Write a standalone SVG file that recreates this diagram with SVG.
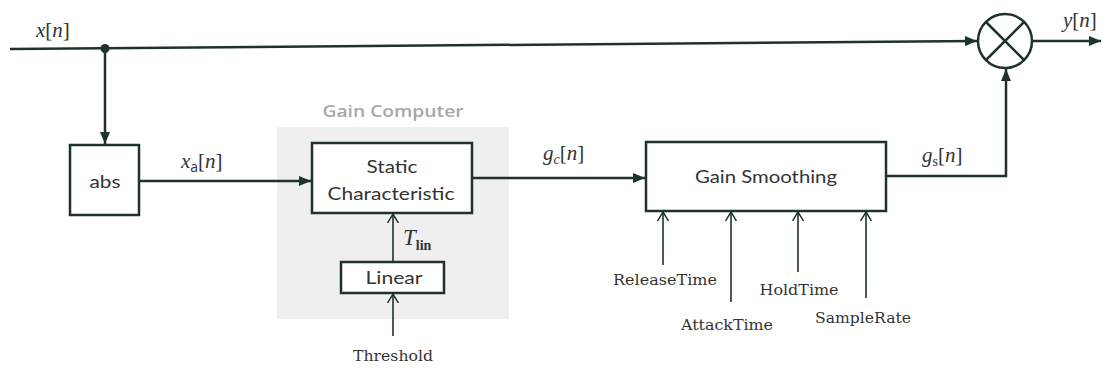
<svg xmlns="http://www.w3.org/2000/svg" width="1103" height="372" viewBox="0 0 1103 372">
<style>
.ln{fill:none;stroke:#1f3329;stroke-width:2.5}
.pl{fill:none;stroke:#1f3329;stroke-width:1.6}
.box{fill:#fff;stroke:#1f3329;stroke-width:2.5}
.lbl{font-family:"Lato","Open Sans",sans-serif;font-size:17px;fill:#333;text-anchor:middle}
.par{font-family:"DejaVu Serif","Liberation Serif",serif;font-size:14px;fill:#333;text-anchor:middle}
.m{font-family:"Liberation Serif","DejaVu Serif",serif;font-size:21px;fill:#333}
.it{font-style:italic}
.sub{font-size:14px}
</style>
<defs>
<marker id="fa" viewBox="0 0 12 10" refX="12" refY="5" markerWidth="12" markerHeight="10" orient="auto" markerUnits="userSpaceOnUse"><path d="M0,0 L12,5 L0,10 z" fill="#1f3329"/></marker>
<marker id="oa" viewBox="0 0 10 12" refX="9" refY="6" markerWidth="10" markerHeight="12" orient="auto" markerUnits="userSpaceOnUse"><path d="M0,0.5 L9,6 L0,11.5" fill="none" stroke="#1f3329" stroke-width="1.5"/></marker>
</defs>
<rect width="1103" height="372" fill="#fff"/>
<g id="gain-computer">
<rect x="277" y="127" width="232" height="192" fill="#efefef"/>
<text x="393" y="117" text-anchor="middle" font-family="'Open Sans','Noto Sans',sans-serif" font-weight="600" font-size="16" fill="#a8a8a8" textLength="141" lengthAdjust="spacingAndGlyphs">Gain Computer</text>
</g>
<g id="connectors">
<path class="ln" d="M10,49 L977,41" marker-end="url(#fa)"/>
<path class="ln" d="M105,48 L105,144" marker-end="url(#fa)"/>
<path class="ln" d="M139,181 L311,181" marker-end="url(#fa)"/>
<path class="ln" d="M472,178 L645,178" marker-end="url(#fa)"/>
<path class="ln" d="M886,176 L1006,176 L1006,69" marker-end="url(#fa)"/>
<path class="ln" d="M1033,41 L1101,41" marker-end="url(#fa)"/>
<path class="pl" d="M393,262 L393,214" marker-end="url(#oa)"/>
<path class="pl" d="M393,336 L393,294" marker-end="url(#oa)"/>
<path class="pl" d="M663,265 L663,212" marker-end="url(#oa)"/>
<path class="pl" d="M731,302 L731,212" marker-end="url(#oa)"/>
<path class="pl" d="M798,272 L798,212" marker-end="url(#oa)"/>
<path class="pl" d="M866,298 L866,212" marker-end="url(#oa)"/>
<circle cx="105" cy="48.5" r="4.5" fill="#1f3329"/>
</g>
<g id="abs">
<rect class="box" x="70" y="145" width="69" height="70"/>
<text class="lbl" x="105" y="188" textLength="31" lengthAdjust="spacingAndGlyphs">abs</text>
</g>
<g id="static">
<rect class="box" x="312" y="143" width="160" height="70"/>
<text class="lbl" x="392" y="173" textLength="51" lengthAdjust="spacingAndGlyphs">Static</text>
<text class="lbl" x="391" y="200" textLength="127" lengthAdjust="spacingAndGlyphs">Characteristic</text>
</g>
<g id="linear">
<rect class="box" x="341" y="262" width="103" height="31"/>
<text class="lbl" x="394" y="284" textLength="57" lengthAdjust="spacingAndGlyphs">Linear</text>
</g>
<g id="smoothing">
<rect class="box" x="646" y="142" width="240" height="69"/>
<text class="lbl" x="766" y="183" textLength="142" lengthAdjust="spacingAndGlyphs">Gain Smoothing</text>
</g>
<g id="multiplier">
<circle cx="1005" cy="41" r="27" fill="#fff" stroke="#1f3329" stroke-width="2.5"/>
<path class="ln" d="M986,22 L1024,60 M1024,22 L986,60"/>
</g>
<g id="labels">
<text class="m" x="36" y="37"><tspan class="it">x</tspan>[<tspan class="it">n</tspan>]</text>
<text class="m" x="1063" y="27"><tspan class="it">y</tspan>[<tspan class="it">n</tspan>]</text>
<text class="m" x="181" y="168"><tspan class="it">x</tspan><tspan class="sub" dy="4" font-family="'Open Sans',sans-serif">a</tspan><tspan dy="-4">[</tspan><tspan class="it">n</tspan>]</text>
<text class="m" x="543" y="160"><tspan class="it">g</tspan><tspan class="sub it" dy="4">c</tspan><tspan dy="-4">[</tspan><tspan class="it">n</tspan>]</text>
<text class="m" x="922" y="162"><tspan class="it">g</tspan><tspan class="sub" dy="4">s</tspan><tspan dy="-4">[</tspan><tspan class="it">n</tspan>]</text>
<text class="m" x="403" y="245"><tspan class="it" font-size="23">T</tspan><tspan class="sub" dy="5" font-weight="bold">lin</tspan></text>
<text class="par" x="393" y="361" textLength="80" lengthAdjust="spacingAndGlyphs">Threshold</text>
<text class="par" x="665" y="285" textLength="104" lengthAdjust="spacingAndGlyphs">ReleaseTime</text>
<text class="par" x="727" y="330" textLength="92" lengthAdjust="spacingAndGlyphs">AttackTime</text>
<text class="par" x="799" y="295" textLength="79" lengthAdjust="spacingAndGlyphs">HoldTime</text>
<text class="par" x="863" y="323" textLength="96" lengthAdjust="spacingAndGlyphs">SampleRate</text>
</g>
</svg>
